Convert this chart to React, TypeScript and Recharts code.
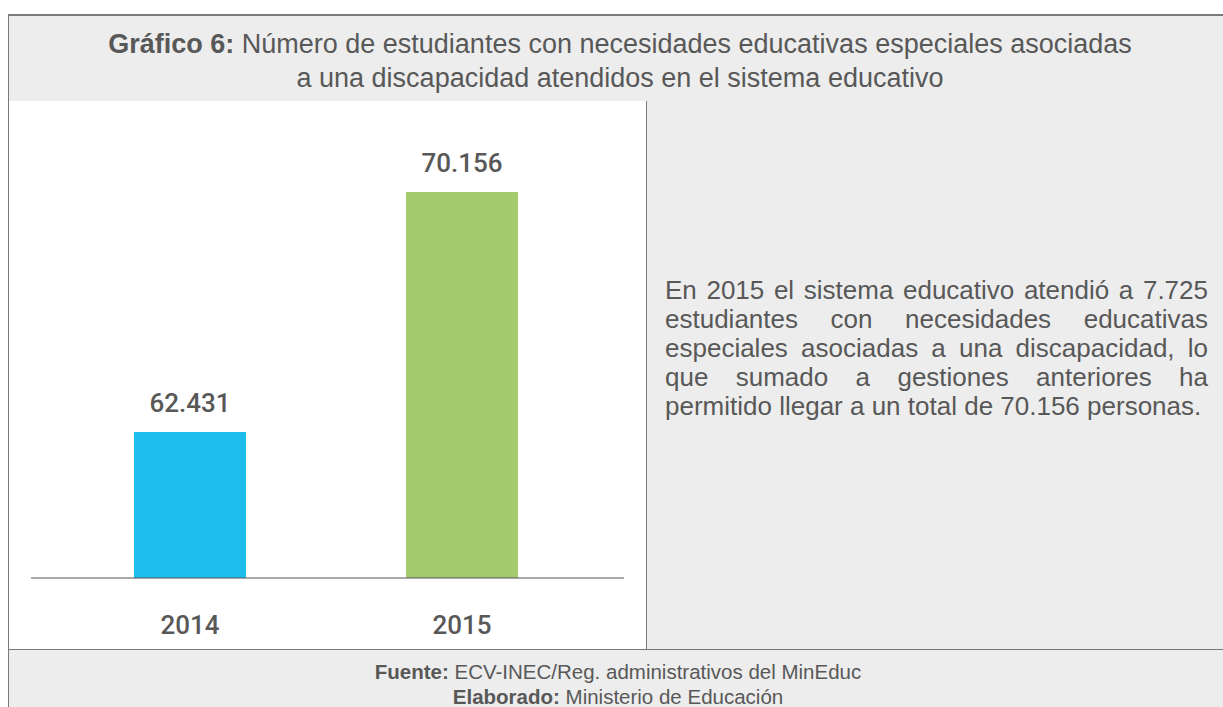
import React from "react";
import { BarChart, Bar, XAxis, YAxis, Cell, LabelList } from "recharts";

const years = ["2014", "2015"];
const students = [62431, 70156];
const barColors = ["#1dbdec", "#a3ca6c"];
const valueLabels = ["62.431", "70.156"];
const yDomain: [number, number] = [57732, 72474];

const data = years.map((y, i) => ({ year: y, value: students[i], label: valueLabels[i] }));

const FONT = "'Liberation Sans', Arial, sans-serif";
const NUMFONT = "'Roboto', 'Liberation Sans', sans-serif";
const TEXT = "#585858";
const BORDER = "#7a7a7a";
const GRAY = "#ededed";

const YearTick = (props: any) => {
  const { x, y, payload } = props;
  return (
    <text x={x} y={y + 56} textAnchor="middle" fill={TEXT} fontFamily={NUMFONT} fontSize={26} fontWeight={500}>
      {payload.value}
    </text>
  );
};

const ValueLabel = (props: any) => {
  const { x, y, width, value } = props;
  return (
    <text x={x + width / 2} y={y - 20} textAnchor="middle" fill={TEXT} fontFamily={NUMFONT} fontSize={26} fontWeight={500}>
      {value}
    </text>
  );
};

export default function App() {
  return (
    <div style={{ position: "absolute", left: 0, top: 0, width: 1223, height: 707, background: "#fff", overflow: "hidden", fontFamily: FONT, color: TEXT }}>
      {/* header */}
      <div style={{ position: "absolute", left: 8, top: 14, width: 1215, height: 88, background: GRAY, borderTop: `2px solid ${BORDER}`, borderLeft: `1px solid ${BORDER}`, borderBottom: `1px solid ${BORDER}`, boxSizing: "border-box" }} />
      <div style={{ position: "absolute", left: 0, top: 27, width: 1240, textAlign: "center", fontSize: 27, fontWeight: 400, lineHeight: "34px", whiteSpace: "nowrap" }}>
        <div><span style={{ fontWeight: 700 }}>Gráfico 6:</span> Número de estudiantes con necesidades educativas especiales asociadas</div>
        <div>a una discapacidad atendidos en el sistema educativo</div>
      </div>
      {/* left panel */}
      <div style={{ position: "absolute", left: 8, top: 101, width: 639, height: 548, background: "#fff", borderLeft: `1px solid ${BORDER}`, borderRight: `1px solid ${BORDER}`, boxSizing: "border-box" }} />
      {/* right panel */}
      <div style={{ position: "absolute", left: 647, top: 101, width: 576, height: 548, background: GRAY }} />
      <div style={{ position: "absolute", left: 665, top: 276, width: 543, fontSize: 26, fontWeight: 400, lineHeight: "29px", textAlign: "justify" }}>
        En 2015 el sistema educativo atendió a 7.725 estudiantes con necesidades educativas especiales asociadas a una discapacidad, lo que sumado a gestiones anteriores ha permitido llegar a un total de 70.156 personas.
      </div>
      {/* footer */}
      <div style={{ position: "absolute", left: 8, top: 649, width: 1215, height: 58, background: GRAY, borderTop: `1px solid ${BORDER}`, borderLeft: `1px solid ${BORDER}`, boxSizing: "border-box" }} />
      <div style={{ position: "absolute", left: 0, top: 659, width: 1236, textAlign: "center", fontSize: 20.5, fontWeight: 400, lineHeight: "25px", whiteSpace: "nowrap" }}>
        <div><span style={{ fontWeight: 700 }}>Fuente:</span> ECV-INEC/Reg. administrativos del MinEduc</div>
        <div><span style={{ fontWeight: 700 }}>Elaborado:</span> Ministerio de Educación</div>
      </div>
      {/* chart */}
      <div style={{ position: "absolute", left: 0, top: 101 }}>
        <BarChart width={646} height={548} data={data} margin={{ top: 19, right: 22, bottom: 0, left: 31 }} barCategoryGap={0}>
          <XAxis dataKey="year" height={71} tickLine={false} tickSize={0} tickMargin={0} axisLine={{ stroke: "#555", strokeWidth: 1 }} padding={{ left: 23, right: 26 }} tick={<YearTick />} interval={0} />
          <YAxis hide domain={yDomain} allowDataOverflow />
          <Bar dataKey="value" barSize={112} isAnimationActive={false}>
            {data.map((d, i) => (
              <Cell key={d.year} fill={barColors[i]} />
            ))}
            <LabelList dataKey="label" content={<ValueLabel />} />
          </Bar>
        </BarChart>
      </div>
    </div>
  );
}
